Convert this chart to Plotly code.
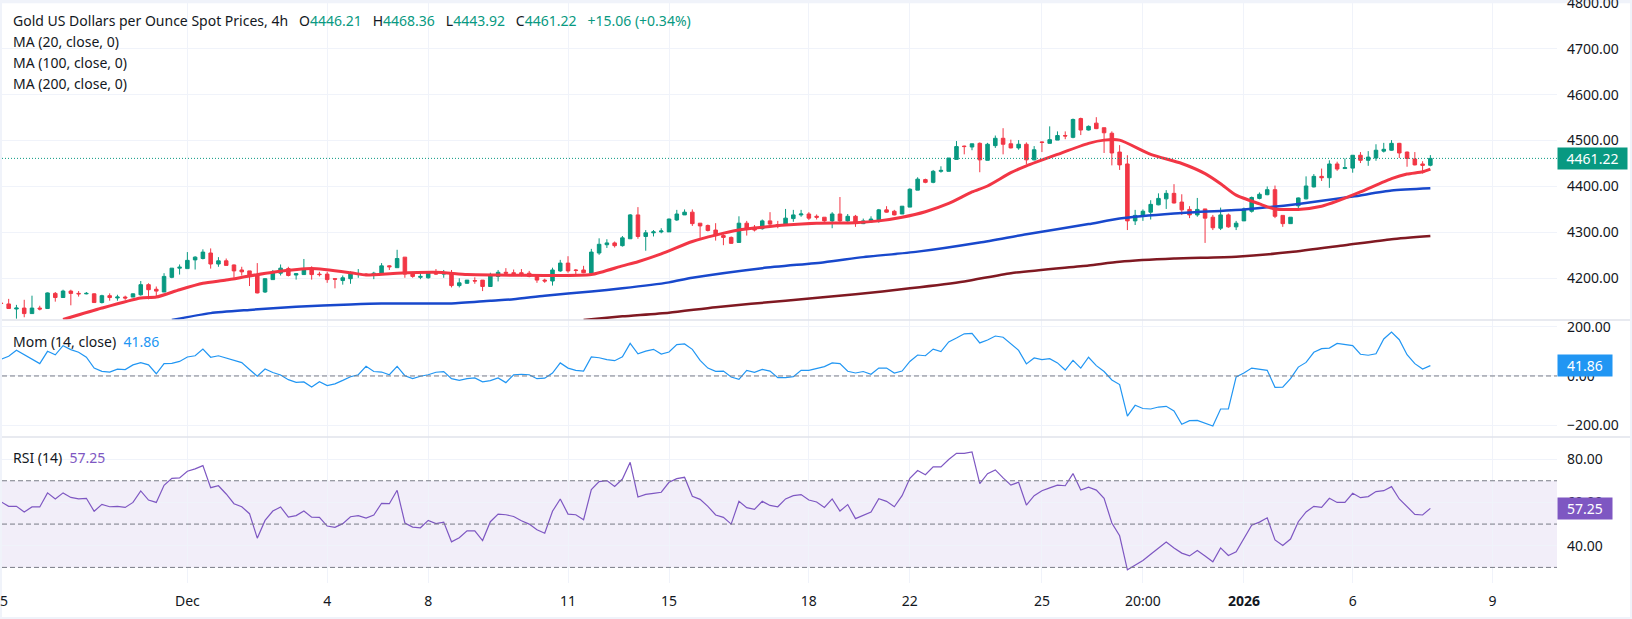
import plotly.graph_objects as go
from plotly.subplots import make_subplots

# 4h bars, index -1 is the one cut off at the left edge
bar_open = [4146,
    4144, 4133, 4135, 4123, 4135, 4134, 4167, 4158, 4172, 4167,
    4166, 4166, 4147, 4162, 4157, 4159, 4159, 4164, 4186, 4176,
    4170, 4202, 4222, 4221, 4240, 4243, 4255, 4231, 4238, 4229,
    4218, 4216, 4207, 4170, 4197, 4211, 4221, 4207, 4208, 4220,
    4209, 4209, 4199, 4195, 4199, 4208, 4209, 4206, 4210, 4227,
    4223, 4246, 4212, 4202, 4201, 4212, 4209, 4212, 4184, 4189,
    4195, 4196, 4182, 4204, 4213, 4212, 4212, 4211, 4204, 4196,
    4194, 4216, 4233, 4218, 4218, 4211, 4255, 4273, 4277, 4271,
    4286, 4338, 4291, 4299, 4301, 4301, 4327, 4338, 4344, 4320,
    4315, 4305, 4293, 4289, 4278, 4320, 4311, 4308, 4325, 4317,
    4316, 4330, 4338, 4340, 4335, 4333, 4325, 4340, 4325, 4335,
    4319, 4323, 4327, 4349, 4346, 4340, 4355, 4392, 4415, 4409,
    4433, 4433, 4459, 4488, 4486, 4494, 4457, 4489, 4505, 4493,
    4484, 4492, 4458, 4497, 4494, 4501, 4511, 4507, 4548, 4523,
    4538, 4528, 4516, 4475, 4449, 4325, 4336, 4344, 4360, 4373,
    4385, 4366, 4350, 4338, 4351, 4333, 4309, 4338, 4312, 4325,
    4346, 4374, 4382, 4393, 4337, 4319, 4358, 4373, 4399, 4422,
    4419, 4449, 4439, 4440, 4468, 4457, 4462, 4477, 4479, 4494,
    4475, 4460, 4449, 4446.21]
bar_high = [4146,
    4155, 4142, 4153, 4162, 4140, 4169, 4170, 4175, 4175, 4172,
    4170, 4167, 4164, 4167, 4164, 4162, 4167, 4194, 4189, 4182,
    4211, 4222, 4230, 4257, 4248, 4263, 4265, 4246, 4243, 4230,
    4225, 4216, 4233, 4200, 4218, 4230, 4225, 4211, 4242, 4226,
    4214, 4214, 4199, 4206, 4215, 4220, 4211, 4214, 4233, 4228,
    4262, 4246, 4214, 4211, 4215, 4220, 4218, 4218, 4200, 4196,
    4202, 4196, 4212, 4218, 4222, 4219, 4220, 4216, 4206, 4199,
    4223, 4240, 4248, 4220, 4227, 4264, 4287, 4285, 4280, 4292,
    4340, 4355, 4305, 4305, 4309, 4330, 4349, 4350, 4350, 4320,
    4317, 4320, 4296, 4291, 4335, 4325, 4316, 4328, 4344, 4325,
    4351, 4349, 4349, 4344, 4339, 4333, 4344, 4377, 4340, 4338,
    4330, 4335, 4351, 4357, 4349, 4357, 4396, 4420, 4417, 4436,
    4444, 4462, 4499, 4489, 4493, 4496, 4495, 4511, 4527, 4502,
    4501, 4496, 4488, 4498, 4531, 4520, 4520, 4548, 4550, 4533,
    4551, 4528, 4520, 4490, 4468, 4349, 4350, 4370, 4385, 4392,
    4405, 4383, 4357, 4375, 4351, 4338, 4354, 4341, 4325, 4354,
    4378, 4387, 4400, 4402, 4337, 4333, 4376, 4422, 4427, 4439,
    4457, 4454, 4461, 4468, 4475, 4477, 4492, 4495, 4501, 4495,
    4476, 4475, 4455, 4468.36]
bar_low = [4144,
    4134, 4112, 4115, 4123, 4130, 4134, 4149, 4158, 4141, 4160,
    4165, 4147, 4145, 4151, 4151, 4153, 4159, 4162, 4154, 4160,
    4170, 4200, 4208, 4221, 4219, 4241, 4221, 4225, 4228, 4201,
    4206, 4183, 4167, 4168, 4197, 4206, 4204, 4197, 4208, 4197,
    4204, 4190, 4178, 4186, 4188, 4201, 4205, 4198, 4209, 4218,
    4223, 4201, 4201, 4198, 4199, 4207, 4201, 4180, 4180, 4188,
    4188, 4172, 4181, 4193, 4205, 4206, 4204, 4202, 4190, 4190,
    4184, 4214, 4212, 4208, 4211, 4211, 4251, 4266, 4267, 4269,
    4286, 4286, 4260, 4291, 4298, 4301, 4325, 4338, 4314, 4288,
    4302, 4282, 4272, 4275, 4278, 4293, 4302, 4306, 4316, 4309,
    4316, 4323, 4334, 4327, 4328, 4323, 4309, 4322, 4323, 4312,
    4318, 4321, 4321, 4343, 4337, 4340, 4355, 4392, 4407, 4407,
    4430, 4433, 4459, 4470, 4479, 4431, 4457, 4484, 4470, 4483,
    4480, 4449, 4457, 4475, 4494, 4501, 4503, 4505, 4512, 4522,
    4525, 4473, 4446, 4436, 4305, 4316, 4325, 4328, 4359, 4351,
    4363, 4338, 4331, 4334, 4277, 4305, 4305, 4310, 4305, 4325,
    4343, 4372, 4381, 4331, 4312, 4319, 4347, 4372, 4398, 4412,
    4397, 4434, 4438, 4430, 4451, 4445, 4456, 4474, 4478, 4462,
    4443, 4446, 4428, 4443.92]
bar_close = [4145,
    4134, 4135, 4123, 4135, 4133, 4168, 4158, 4172, 4167, 4166,
    4167, 4147, 4162, 4158, 4159, 4157, 4166, 4186, 4175, 4172,
    4204, 4222, 4224, 4239, 4246, 4257, 4231, 4238, 4228, 4216,
    4214, 4204, 4168, 4199, 4214, 4222, 4206, 4210, 4218, 4208,
    4208, 4197, 4198, 4201, 4209, 4210, 4206, 4211, 4227, 4225,
    4243, 4209, 4204, 4204, 4213, 4209, 4212, 4184, 4190, 4196,
    4194, 4182, 4207, 4213, 4211, 4210, 4210, 4204, 4196, 4194,
    4218, 4233, 4216, 4217, 4212, 4257, 4274, 4277, 4271, 4288,
    4338, 4291, 4299, 4301, 4303, 4329, 4340, 4344, 4319, 4314,
    4304, 4293, 4289, 4276, 4320, 4309, 4305, 4325, 4318, 4316,
    4331, 4338, 4340, 4331, 4333, 4325, 4340, 4325, 4335, 4321,
    4325, 4329, 4349, 4344, 4338, 4357, 4394, 4416, 4409, 4433,
    4435, 4462, 4487, 4487, 4493, 4458, 4492, 4505, 4492, 4484,
    4492, 4458, 4480, 4496, 4502, 4511, 4510, 4546, 4523, 4531,
    4526, 4517, 4473, 4447, 4325, 4337, 4346, 4361, 4374, 4385,
    4364, 4349, 4338, 4350, 4331, 4310, 4338, 4312, 4320, 4351,
    4376, 4383, 4393, 4335, 4319, 4333, 4375, 4401, 4422, 4419,
    4449, 4438, 4441, 4468, 4457, 4464, 4479, 4481, 4494, 4473,
    4461, 4447, 4446, 4461.22]
bar_index = list(range(-1, len(bar_close) - 1))

# moving averages
ma20_index = [7, 12, 17, 19, 22, 25, 28, 31, 34, 39, 44, 46, 50, 55, 59, 63, 69, 75, 79, 81, 84, 88,
              91, 94, 97, 100, 104, 109, 112, 115, 118, 121, 124, 126, 129, 131, 135, 139, 141, 143,
              147, 151, 154, 156, 158, 161, 163, 166, 169, 171, 174, 178, 180, 182, 183]
ma20_value = [4110, 4135, 4157, 4159, 4175, 4189, 4196, 4205, 4213, 4221, 4212, 4207, 4211, 4213, 4208, 4207,
              4206, 4208, 4227, 4236, 4253, 4280, 4294, 4305, 4311, 4316, 4320, 4321, 4325, 4333, 4345, 4363,
              4388, 4401, 4430, 4445, 4470, 4494, 4501, 4501, 4470, 4450, 4428, 4406, 4381, 4362, 4351, 4350,
              4357, 4368, 4388, 4417, 4427, 4432, 4438]
ma100_index = [21, 26, 31, 37, 44, 48, 57, 62, 65, 69, 75, 79, 85, 88, 97, 105, 110, 117, 125, 131, 139,
               143, 150, 159, 166, 173, 178, 183]
ma100_value = [4109, 4124, 4131, 4138, 4143, 4145, 4145, 4151, 4154, 4162, 4171, 4178, 4191, 4201, 4222, 4235,
               4246, 4258, 4278, 4296, 4318, 4330, 4341, 4350, 4362, 4378, 4391, 4396]
ma200_index = [74, 79, 85, 91, 100, 109, 116, 123, 129, 139, 143, 150, 158, 165, 172, 178, 183]
ma200_value = [4109, 4117, 4125, 4137, 4151, 4165, 4178, 4193, 4211, 4228, 4236, 4243, 4247, 4257, 4272, 4285, 4292]

mom_value = [68,
    80, 104, 86, 66, 50, 100, 86, 123, 107, 96,
    76, 32, 19, 16, 28, 26, 45, 54, 45, 9,
    50, 51, 59, 77, 82, 109, 76, 82, 73, 63,
    54, 26, -1, 28, 14, 4, -15, -26, -24, -45,
    -23, -39, -32, -18, -3, 5, 39, 18, 16, 5,
    39, 1, -11, -1, 5, 15, 18, -11, -18, -11,
    -8, -24, -19, -8, -27, 5, 7, 5, -11, -9,
    12, 53, 32, 23, 20, 77, 74, 66, 62, 78,
    132, 90, 101, 108, 89, 97, 127, 130, 108, 63,
    32, 19, 20, -4, -14, 23, 15, 27, 20, -7,
    -7, -3, 23, 23, 31, 38, 53, 50, 19, 12,
    18, 7, 32, 32, 12, 20, 59, 85, 82, 109,
    99, 138, 154, 171, 173, 134, 146, 162, 157, 131,
    104, 49, 73, 66, 70, 53, 24, 63, 32, 76,
    42, 18, -16, -35, -163, -119, -132, -134, -126, -123,
    -142, -196, -181, -180, -193, -203, -134, -134, -4, 12,
    32, 26, 23, -46, -45, -11, 36, 55, 96, 111,
    113, 132, 127, 123, 88, 84, 90, 150, 178, 147,
    86, 50, 28, 41.86]
rsi_value = [60.3,
    58.2, 58.2, 55.6, 57.9, 57.9, 64.4, 61.6, 64.4, 62.3, 61.6,
    61.9, 55.9, 59.1, 58.0, 58.2, 57.7, 60.0, 65.3, 61.1, 60.0,
    67.9, 71.1, 71.3, 74.4, 75.5, 77.0, 66.8, 67.7, 63.9, 59.4,
    58.0, 54.8, 43.5, 51.7, 56.0, 57.9, 53.2, 53.9, 56.0, 53.2,
    53.1, 49.1, 48.5, 50.2, 53.4, 53.9, 52.8, 54.2, 59.6, 59.4,
    65.6, 50.5, 48.6, 48.3, 51.7, 50.2, 50.9, 41.8, 43.7, 46.9,
    46.9, 42.4, 51.1, 54.6, 54.3, 53.5, 51.5, 50.0, 47.4, 45.8,
    55.9, 61.6, 54.6, 54.3, 52.0, 65.9, 69.6, 70.1, 67.4, 70.8,
    78.5, 62.5, 63.7, 64.2, 64.7, 69.3, 71.0, 71.6, 62.8, 61.4,
    58.2, 54.2, 53.1, 50.0, 60.5, 57.6, 56.8, 60.5, 58.6, 58.0,
    61.6, 63.1, 63.6, 61.1, 60.2, 57.7, 61.6, 56.0, 59.0, 52.5,
    54.0, 55.6, 61.7, 60.5, 58.0, 63.1, 71.1, 74.7, 72.8, 76.4,
    76.4, 79.8, 82.7, 82.6, 83.3, 68.7, 73.3, 75.0, 71.3, 68.0,
    69.3, 58.8, 63.1, 65.4, 66.7, 68.0, 67.7, 73.3, 65.7, 67.0,
    65.7, 61.9, 50.5, 44.6, 28.9, 31.2, 33.2, 36.1, 39.0, 41.7,
    39.0, 36.6, 35.3, 37.8, 35.3, 32.6, 39.0, 35.5, 37.2, 43.4,
    49.5, 50.9, 52.9, 42.7, 40.1, 43.1, 51.1, 55.6, 58.2, 57.7,
    61.9, 60.0, 60.0, 64.2, 62.2, 62.7, 65.0, 65.4, 67.3, 61.6,
    57.9, 54.5, 54.2, 57.25]

time_ticks = [23, 41, 54, 72, 85, 103, 116, 133, 146, 159, 173, 191]
time_labels = ["Dec", "4", "8", "11", "15", "18", "22", "25", "20:00", "<b>2026</b>", "6", "9"]
price_ticks = [4200, 4300, 4400, 4500, 4600, 4700, 4800]
mom_ticks = [-200, 0, 200]
rsi_ticks = [40, 60, 80]
rsi_levels = [30, 50, 70]

RED = "#f23645"
GREEN = "#089981"
TEXT = "#131722"
GRID = "#f0f3fa"
DASH = dict(color="#787b86", width=1, dash="5px,3px")
FONT = "Noto Sans"

fig = make_subplots(rows=3, cols=1, shared_xaxes=True, vertical_spacing=0,
                    row_heights=[318, 117, 146])

# white card over the pale page colour
fig.add_shape(type="rect", xref="paper", yref="paper", x0=0, x1=1628 / 1555, y0=-34 / 581, y1=0.998,
              fillcolor="white", line_width=0, layer="below")

fig.add_trace(go.Candlestick(
    x=bar_index, open=bar_open, high=bar_high, low=bar_low, close=bar_close,
    whiskerwidth=0,
    increasing=dict(line=dict(color=GREEN, width=1), fillcolor=GREEN),
    decreasing=dict(line=dict(color=RED, width=1), fillcolor=RED),
    showlegend=False), row=1, col=1)

ma_lines = [(ma200_index, ma200_value, "#801922", 2.5),
            (ma100_index, ma100_value, "#1848cc", 2.5),
            (ma20_index, ma20_value, RED, 3)]
for idx, values, colour, line_w in ma_lines:
    fig.add_trace(go.Scatter(x=idx, y=values, mode="lines", showlegend=False,
                             line=dict(color=colour, width=line_w, shape="spline", smoothing=0.6)),
                  row=1, col=1)

fig.add_trace(go.Scatter(x=bar_index, y=mom_value, mode="lines", showlegend=False,
                         line=dict(color="#2196f3", width=1.2)), row=2, col=1)
fig.add_trace(go.Scatter(x=bar_index, y=rsi_value, mode="lines", showlegend=False,
                         line=dict(color="#7e57c2", width=1.2)), row=3, col=1)

# reference lines
fig.add_hline(y=bar_close[-1], line=dict(color=GREEN, width=1, dash="1px,2px"), row=1, col=1)
fig.add_hline(y=0, line=DASH, row=2, col=1)
fig.add_hrect(y0=rsi_levels[0], y1=rsi_levels[2], fillcolor="#7e57c2", opacity=0.1,
              line_width=0, layer="below", row=3, col=1)
for level in rsi_levels:
    fig.add_hline(y=level, line=DASH, row=3, col=1)

# pane separators run across the scale too
for sep in [263 / 581, 146 / 581]:
    fig.add_shape(type="line", xref="paper", yref="paper", x0=0, x1=1628 / 1555, y0=sep, y1=sep,
                  line=dict(color="#e0e3eb", width=1.5))

axis_font = dict(family=FONT, size=14, color=TEXT)
fig.update_xaxes(range=[-0.86, 199.3], showgrid=True, gridcolor=GRID, gridwidth=1, zeroline=False,
                 tickmode="array", tickvals=time_ticks, ticktext=time_labels, ticks="", automargin=False,
                 tickfont=axis_font, showline=False, rangeslider_visible=False)
fig.update_yaxes(side="right", showgrid=True, gridcolor=GRID, gridwidth=1, zeroline=False, showline=False,
                 tickmode="array", ticks="", tickfont=axis_font, ticklabelstandoff=9,
                 ticklabeloverflow="allow", automargin=False)
fig.update_yaxes(range=[4109, 4802], tickvals=price_ticks, ticktext=[f"{v:.2f}" for v in price_ticks], row=1, col=1)
fig.update_yaxes(range=[-247.5, 227], tickvals=mom_ticks,
                 ticktext=["\u2212200.00", "0.00", "200.00"], row=2, col=1)
fig.update_yaxes(range=[22.8, 90.2], tickvals=rsi_ticks, ticktext=[f"{v:.2f}" for v in rsi_ticks], row=3, col=1)
fig.update_xaxes(ticklabelstandoff=8, row=3, col=1)


def num(text):
    return f'<span style="color:{GREEN}">{text}</span>'


gap = "&nbsp;&nbsp;&nbsp;"
header = ("Gold US Dollars per Ounce Spot Prices, 4h" + gap + "O" + num("4446.21") + gap + "H" + num("4468.36")
          + gap + "L" + num("4443.92") + gap + "C" + num("4461.22") + gap + num("+15.06 (+0.34%)"))


def label(text, y_px):
    fig.add_annotation(xref="paper", yref="paper", x=9 / 1555, y=(583 - y_px) / 581, text=text, showarrow=False,
                       xanchor="left", yanchor="middle", font=dict(family=FONT, size=14, color=TEXT))


label(header, 20.7)
label("MA (20, close, 0)", 42)
label("MA (100, close, 0)", 63)
label("MA (200, close, 0)", 84)
label(f'Mom (14, close)&nbsp;&nbsp;<span style="color:#2196f3">{mom_value[-1]:.2f}</span>', 341)
label(f'RSI (14)&nbsp;&nbsp;<span style="color:#7e57c2">{rsi_value[-1]:.2f}</span>', 457.7)

# the "25" tick at the left edge only shows its last digit
fig.add_annotation(xref="x3", yref="paper", x=-0.55, y=-17.7 / 581, text="5", showarrow=False,
                   font=axis_font, yanchor="middle")

# last value boxes on the scale
for yref, value, colour, box_w in [("y", bar_close[-1], GREEN, 69),
                                   ("y2", mom_value[-1], "#2196f3", 54),
                                   ("y3", rsi_value[-1], "#7e57c2", 54)]:
    fig.add_annotation(xref="paper", yref=yref, x=1, y=value, text=f"{value:.2f}", showarrow=False,
                       xanchor="left", yanchor="middle", align="center", bgcolor=colour, width=box_w, height=21,
                       borderpad=0, font=dict(family=FONT, size=14, color="white"))

fig.update_layout(width=1632, height=619, margin=dict(l=2, r=75, t=2, b=36, autoexpand=False),
                  paper_bgcolor="#f0f3fa", plot_bgcolor="rgba(0,0,0,0)", boxgap=0.35, showlegend=False,
                  font=dict(family=FONT, size=14, color=TEXT))

fig.write_html("out.html", config=dict(displayModeBar=False), post_script="document.body.style.margin='0';")
